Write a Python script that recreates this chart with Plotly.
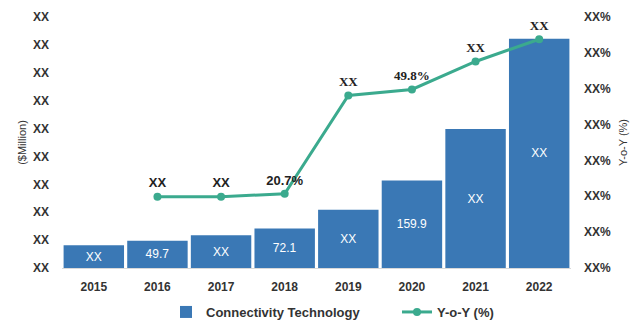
import plotly.graph_objects as go

years = ["2015", "2016", "2017", "2018", "2019", "2020", "2021", "2022"]
market = [41.5, 49.7, 59.8, 72.1, 106.5, 159.9, 254.0, 419.0]
market_labels = ["XX", "49.7", "XX", "72.1", "XX", "159.9", "XX", "XX"]
yoy_years = ["2016", "2017", "2018", "2019", "2020", "2021", "2022"]
yoy = [19.9, 19.9, 20.7, 48.1, 49.8, 57.6, 63.8]
yoy_labels = ["XX", "XX", "20.7%", "XX", "49.8%", "XX", "XX"]
left_ticks = [i * 51 for i in range(10)]
right_ticks = [i * 10 for i in range(8)]

bar_color = "#3A78B5"
line_color = "#3BAA8E"
sans = "Liberation Sans, Arial, sans-serif"
serif = "Liberation Serif, Times New Roman, serif"

fig = go.Figure()
fig.add_trace(go.Bar(
    x=years, y=market, name="Connectivity Technology", legend="legend",
    marker=dict(color=bar_color, line=dict(width=0)),
    text=market_labels, textposition="inside", insidetextanchor="middle",
    textfont=dict(color="white", size=12, family=sans),
    cliponaxis=False,
))
fig.add_trace(go.Scatter(
    x=yoy_years, y=yoy, name="Y-o-Y (%)", yaxis="y2", legend="legend2",
    mode="lines+markers+text",
    line=dict(color=line_color, width=3),
    marker=dict(color=line_color, size=8),
    text=yoy_labels, textposition="top center",
    textfont=dict(color="#222222", size=13, weight="bold",
                  family=[sans, sans, sans, serif, serif, serif, serif]),
    cliponaxis=False,
))

legend_font = dict(size=13, family=sans, color="#333333", weight="bold")
fig.update_layout(
    width=638, height=330,
    margin=dict(l=62, r=67, t=17, b=62, autoexpand=False),
    plot_bgcolor="white", paper_bgcolor="white",
    bargap=0.05,
    font=dict(family=sans, color="#333333"),
    showlegend=True,
    legend=dict(orientation="h", xref="container", x=166 / 638, xanchor="left",
                yref="container", y=1 - 312 / 330, yanchor="middle",
                font=legend_font, itemwidth=30),
    legend2=dict(orientation="h", xref="container", x=397 / 638, xanchor="left",
                 yref="container", y=1 - 312 / 330, yanchor="middle",
                 font=legend_font, itemwidth=30),
    xaxis=dict(showgrid=False, showline=True, linecolor="#D9D9D9", linewidth=1,
               ticks="", tickfont=dict(size=12, weight="bold", color="#333333"),
               ticklabelstandoff=8, automargin=False),
    yaxis=dict(range=[0, 459], tickvals=left_ticks, ticktext=["XX"] * len(left_ticks),
               showgrid=False, zeroline=False, showline=False, automargin=False,
               tickfont=dict(size=12, weight="bold", color="#333333"),
               ticklabelstandoff=12,
               title=dict(text="($Million)", font=dict(size=11, color="#333333"), standoff=4)),
    yaxis2=dict(range=[0, 70], overlaying="y", side="right", automargin=False,
                tickvals=right_ticks, ticktext=["XX%"] * len(right_ticks),
                showgrid=False, zeroline=False, showline=False,
                tickfont=dict(size=12, weight="bold", color="#333333"),
                ticklabelstandoff=12,
                title=dict(text="Y-o-Y (%)", font=dict(size=11, color="#333333"), standoff=9)),
)

fig.write_html("out.html")
